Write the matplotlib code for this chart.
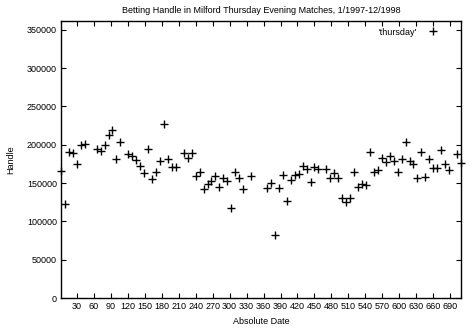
import matplotlib
matplotlib.use("Agg")
import matplotlib.pyplot as plt

plt.rcParams['font.family'] = ['Liberation Sans', 'DejaVu Sans']

# Thursday evening match dates (days since 1/1/1997) and betting handle
days = [2, 9, 16, 23, 30, 37, 44, 65, 72, 79, 86, 93, 100, 107,
        121, 128, 135, 142, 149, 156, 163, 170, 177, 184, 191, 198, 205,
        219, 226, 233, 240, 247, 254, 261, 268, 275, 282, 289, 296, 303,
        310, 317, 324, 338, 366, 373, 380, 387, 394, 401, 408, 415, 422,
        429, 436, 443, 450, 457, 471, 478, 485, 492, 499, 506, 513, 520,
        527, 534, 541, 548, 555, 562, 569, 576, 583, 590, 597, 604, 611,
        618, 625, 632, 639, 646, 653, 660, 667, 674, 681, 688, 702, 709]
handle = [165900, 122400, 190700, 189400, 174600, 199800, 201100, 194600,
          192400, 200200, 212900, 219800, 181100, 203700, 188100, 185800,
          179800, 172000, 163300, 195000, 155400, 164600, 178500, 226800,
          181100, 171500, 171500, 189000, 182800, 189800, 158500, 165000,
          142800, 148900, 152400, 158900, 145000, 156300, 152800, 117100,
          165000, 157100, 142800, 158500, 144100, 149800, 82300, 143200,
          160200, 126200, 154500, 160600, 161900, 172800, 168900, 151100,
          170700, 168900, 168500, 156700, 162800, 156300, 131000, 125800,
          131000, 164200, 145400, 148900, 147200, 190300, 164200, 167600,
          183200, 178000, 185500, 179300, 164200, 181100, 203700, 178500,
          175400, 156300, 191100, 157600, 181500, 170200, 170200, 193700,
          175000, 167600, 187200, 176700]

x_ticks = list(range(30, 691, 30))
y_ticks = list(range(0, 350001, 50000))

fig = plt.figure(figsize=(4.69, 3.28), dpi=100)
ax = fig.add_axes([61 / 469, 30 / 328, 400 / 469, 277.5 / 328])

ax.plot(days, handle, linestyle='none', marker='+', color='black',
        markersize=5.2, markeredgewidth=1.0, label="'thursday'", clip_on=False)

ax.set_xlim(2, 709)
ax.set_ylim(0, 362000)
ax.set_xticks(x_ticks)
ax.set_yticks(y_ticks)
ax.tick_params(direction='in', length=3.5, width=0.8, top=True, right=True,
               labelsize=6.5, pad=3)
for s in ax.spines.values():
    s.set_linewidth(1.0)

ax.set_title('Betting Handle in Milford Thursday Evening Matches, 1/1997-12/1998',
             fontsize=6.5, pad=5.5)
ax.set_xlabel('Absolute Date', fontsize=6.5, labelpad=4)
ax.set_ylabel('Handle', fontsize=6.5, labelpad=8)

# key in the top right corner, sample to the right of the text
ax.legend(loc='upper right', markerfirst=False, frameon=False, fontsize=6.5,
          handlelength=1.5, handletextpad=1.0, borderaxespad=0.2,
          bbox_to_anchor=(0.96, 0.994))

fig.savefig('out.png', dpi=100)
